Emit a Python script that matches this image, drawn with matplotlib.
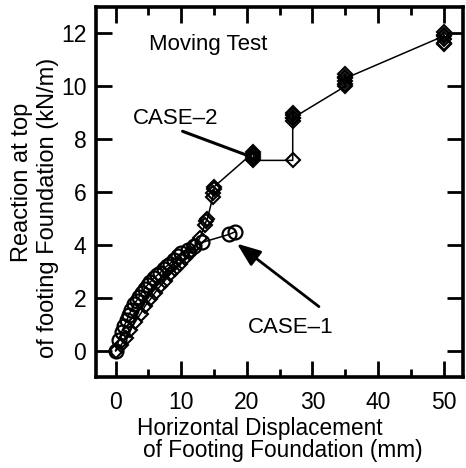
import matplotlib
matplotlib.use("Agg")
import matplotlib.pyplot as plt
from matplotlib.ticker import MultipleLocator

plt.rcParams["font.family"] = ["Liberation Sans", "DejaVu Sans"]

# CASE-1 (open circles)
case1_disp = [0, 0.5, 0.9, 1.3, 1.7, 2.0, 2.4, 2.8, 3.2, 3.6, 4.0, 4.4, 4.9, 5.3, 5.8,
              6.3, 6.8, 7.3, 7.8, 8.3, 8.9, 9.5, 10.0, 11.0, 12.0, 13.2, 17.3, 18.2]
case1_load = [0, 0.4, 0.7, 0.95, 1.15, 1.35, 1.55, 1.75, 1.9, 2.05, 2.2, 2.35, 2.5, 2.6, 2.75,
              2.85, 2.95, 3.1, 3.2, 3.3, 3.45, 3.6, 3.7, 3.8, 3.95, 4.1, 4.4, 4.5]

# CASE-2 (open diamonds, repeated readings at each step)
case2_disp = [0, 0.8, 1.5, 2.2, 3.0, 3.8, 4.5, 5.3, 6.0, 6.8, 7.5, 8.3, 9.0, 9.8, 10.5, 11.3, 12.0, 12.8,
              13.6, 13.8, 14.0, 14.8, 14.9, 15.0, 15.0,
              21.0, 21.0, 21.0, 21.0, 21.0,
              27.0, 27.0, 27.0, 27.0, 27.0, 27.0,
              35.0, 35.0, 35.0, 35.0, 35.0, 35.0,
              50.0, 50.0, 50.0, 50.0, 50.0, 50.0]
case2_load = [0, 0.2, 0.5, 0.8, 1.1, 1.4, 1.7, 1.95, 2.2, 2.45, 2.65, 2.9, 3.1, 3.3, 3.5, 3.7, 3.95, 4.25,
              4.75, 4.9, 5.0, 5.8, 5.95, 6.1, 6.2,
              7.5, 7.45, 7.35, 7.3, 7.2,
              7.2, 9.0, 8.9, 8.8, 8.7, 8.8,
              10.0, 10.1, 10.2, 10.35, 10.45, 10.3,
              11.9, 12.05, 11.95, 11.8, 11.65, 11.6]

xticks = [0, 10, 20, 30, 40, 50]
yticks = [0, 2, 4, 6, 8, 10, 12]

fig = plt.figure(figsize=(4.66, 4.68), dpi=100)
ax = fig.add_axes([0.206, 0.194, 0.788, 0.791])

ax.plot(case2_disp, case2_load, color="black", lw=1.1, marker="D", ms=7.6,
        mfc="none", mec="black", mew=1.5, zorder=3)
ax.plot(case1_disp, case1_load, color="black", lw=1.1, marker="o", ms=10,
        mfc="none", mec="black", mew=1.6, zorder=4)

ax.set_xlim(-3, 53)
ax.set_ylim(-1, 13)
ax.set_xticks(xticks)
ax.set_yticks(yticks)
ax.xaxis.set_minor_locator(MultipleLocator(5))
ax.tick_params(which="both", direction="in", top=True, right=True,
               labelsize=16.5, width=2)
ax.tick_params(which="major", length=11.5)
ax.tick_params(which="minor", length=5.8)
ax.tick_params(axis="x", pad=10)
ax.tick_params(axis="y", pad=7)
for s in ax.spines.values():
    s.set_linewidth(2.6)

fs = 16
ax.text(5.1, 11.6, "Moving Test", fontsize=fs, ha="left", va="center")
ax.text(9.2, 8.8, "CASE–2", fontsize=fs, ha="center", va="center")
ax.annotate("", xy=(20.5, 7.35), xytext=(10.2, 8.3),
            arrowprops=dict(arrowstyle="-", color="black", lw=2.2,
                            shrinkA=0, shrinkB=0))
ax.text(26.7, 0.87, "CASE–1", fontsize=fs, ha="center", va="center")
ax.annotate("", xy=(18.5, 4.05), xytext=(31.0, 1.67),
            arrowprops=dict(arrowstyle="-|>,head_length=0.9,head_width=0.35",
                            color="black", lw=2.0, shrinkA=0, shrinkB=0,
                            mutation_scale=16))

fig.text(260 / 466, 1 - 435 / 468, "Horizontal Displacement", fontsize=16.3,
         ha="center", va="baseline")
fig.text(283 / 466, 1 - 457 / 468, "of Footing Foundation (mm)", fontsize=16.3,
         ha="center", va="baseline")
fig.text(22 / 466, 1 - 182 / 468, "Reaction at top", fontsize=17,
         ha="center", va="center", rotation=90)
fig.text(48 / 466, 1 - 208 / 468, "of footing Foundation (kN/m)", fontsize=17,
         ha="center", va="center", rotation=90)

fig.savefig("out.png", dpi=100)
